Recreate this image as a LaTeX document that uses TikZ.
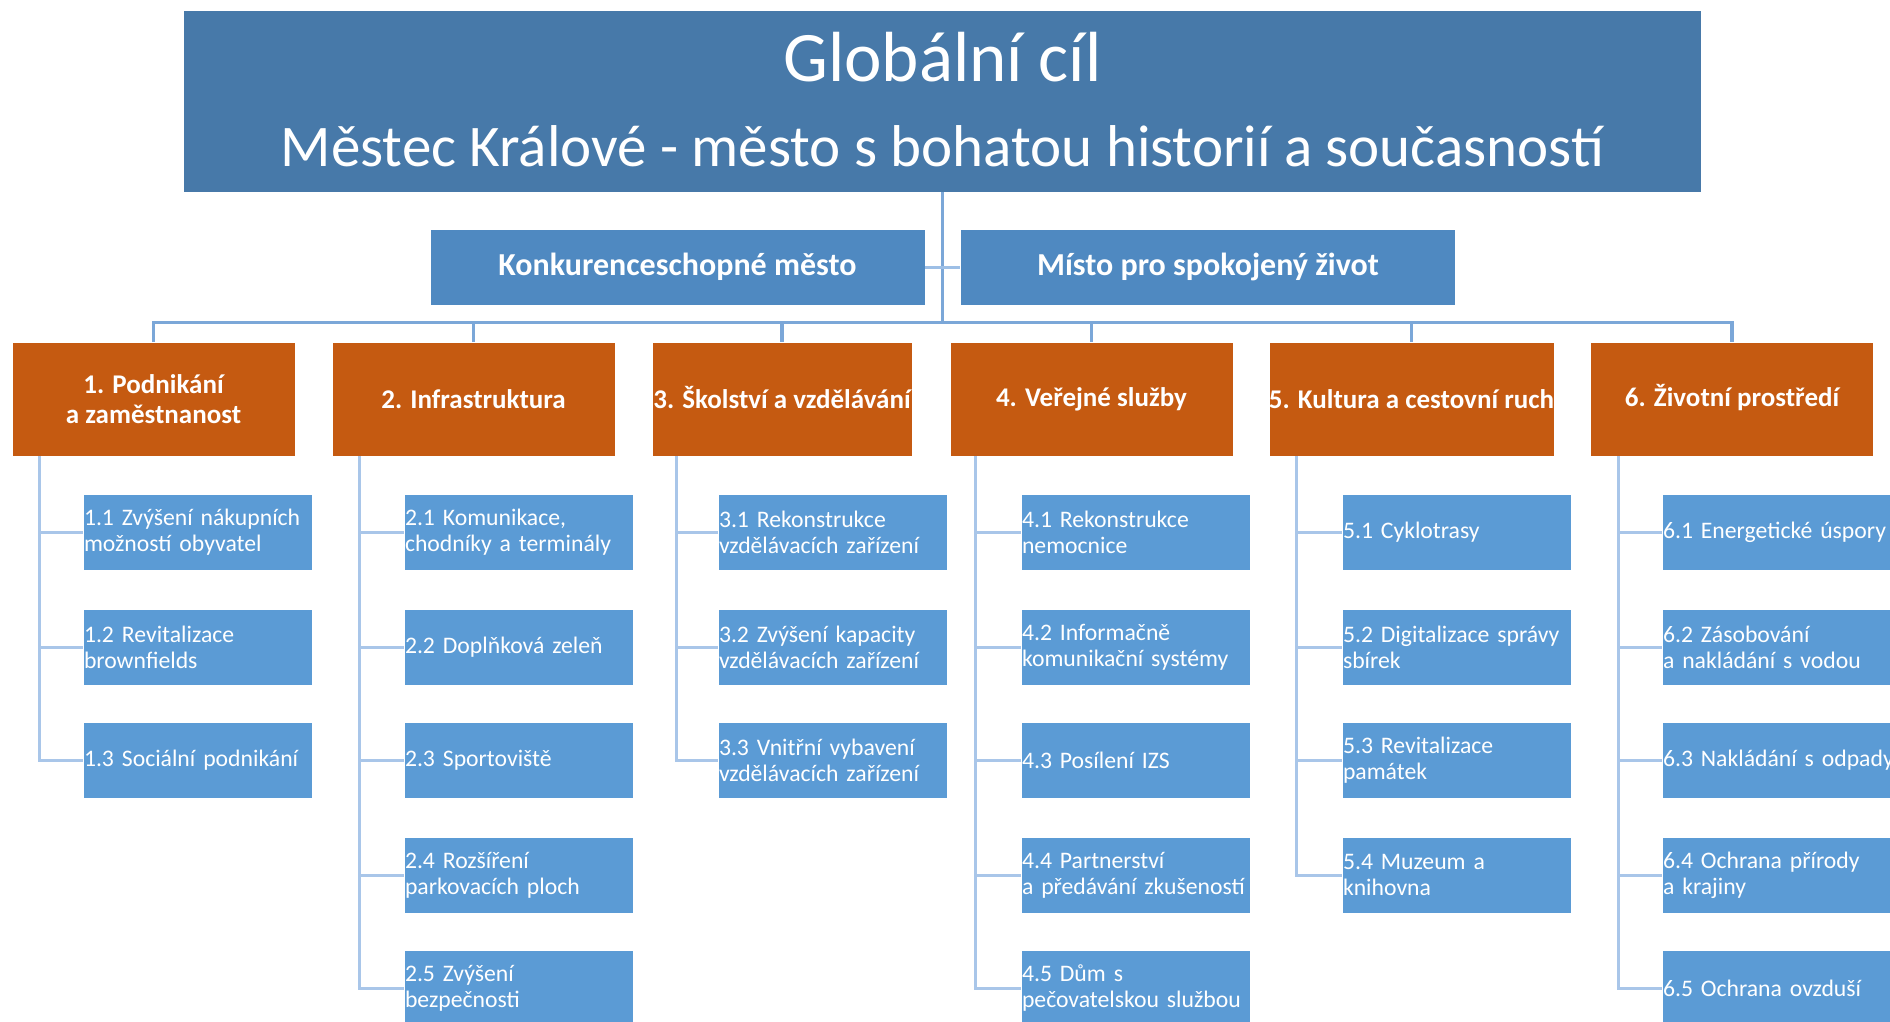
\documentclass[tikz,border=0pt]{standalone}
\usepackage{fontspec}
\setmainfont{Carlito}
\definecolor{goalblue}{HTML}{4779A9}
\definecolor{midblue}{HTML}{4F89C1}
\definecolor{orangebox}{HTML}{C55A11}
\definecolor{childblue}{HTML}{5B9BD5}
\definecolor{lineblue}{HTML}{7BA7D8}
\definecolor{tickblue}{HTML}{9DBFE6}
\definecolor{sublineblue}{HTML}{A9C6E9}
\begin{document}
\begin{tikzpicture}[x=1pt,y=-1pt,
 goalbox/.style={fill=goalblue, draw=white, line width=0.8pt, minimum width=1517pt, minimum height=181pt, inner sep=0pt, text=white, align=center, font=\fontsize{59}{85}\selectfont},
 pillar/.style={fill=midblue, draw=white, line width=0.8pt, minimum width=495pt, minimum height=76pt, inner sep=0pt, text=white, font=\fontsize{32}{38}\selectfont\bfseries},
 priority/.style={fill=orangebox, draw=white, line width=0.8pt, minimum width=283pt, minimum height=114pt, inner sep=0pt, text=white, align=center, font=\fontsize{27}{30}\selectfont\bfseries},
 measure/.style={fill=childblue, draw=white, line width=0.8pt, minimum width=229pt, minimum height=76pt, inner xsep=1pt, inner ysep=0pt, text width=227pt, text=white, align=left, font=\fontsize{23.7}{26}\selectfont},
 mainline/.style={draw=lineblue, line width=3.3pt},
 tickline/.style={draw=tickblue, line width=3pt},
 subline/.style={draw=sublineblue, line width=3pt}]
\useasboundingbox (0,0) rectangle (1890,1022);
\clip (0,0) rectangle (1890,1022);
\fill[white] (0,0) rectangle (1890,1022);

% goal box (text placed inside the node, shifted up slightly)
\fill[goalblue] (184,11) rectangle (1701,192);
\node[goalbox, fill=none, draw=none] (goal) at (942.5,99.5) {{\fontsize{71}{85}\selectfont Globální cíl}\\Městec Králové - město s bohatou historií a současností};
\coordinate (goalbottom) at (942.5,192);

% pillars
\node[pillar] (k1) at (677.5,267) {Konkurenceschopné město};
\node[pillar] (k2) at (1208,267) {Místo pro spokojený život};

% priorities
\node[priority] (o1) at (153.5,399) {1. Podnikání\\a zaměstnanost};
\node[priority] (o2) at (473.5,399) {2. Infrastruktura};
\node[priority, minimum width=260pt] (o3) at (782,399) {3. \smash{Š}kolství a vzdělávání};
\node[priority] (o4) at (1091.5,399) {4. Veřejné služby};
\node[priority] (o5) at (1411.5,399) {5. Kultura a cestovní ruch};
\node[priority] (o6) at (1732,399) {6. \smash{Ž}ivotní prostředí};

% measures column 1
\node[measure] (c11) at (197.5,532) {1.1 Zvýšení nákupních\\možností obyvatel};
\node[measure] (c12) at (197.5,647) {1.2 Revitalizace\\brownfields};
\node[measure] (c13) at (197.5,760) {1.3 Sociální podnikání};
% column 2
\node[measure] (c21) at (518.5,532) {2.1 Komunikace,\\chodníky a terminály};
\node[measure] (c22) at (518.5,647) {2.2 Doplňková zeleň};
\node[measure] (c23) at (518.5,760) {2.3 Sportoviště};
\node[measure] (c24) at (518.5,875) {2.4 Rozšíření\\parkovacích ploch};
\node[measure] (c25) at (518.5,988) {2.5 Zvýšení\\bezpečnosti};
% column 3
\node[measure] (c31) at (832.5,532) {3.1 Rekonstrukce\\vzdělávacích zařízení};
\node[measure] (c32) at (832.5,647) {3.2 Zvýšení kapacity\\vzdělávacích zařízení};
\node[measure] (c33) at (832.5,760) {3.3 Vnitřní vybavení\\vzdělávacích zařízení};
% column 4
\node[measure] (c41) at (1135.5,532) {4.1 Rekonstrukce\\nemocnice};
\node[measure] (c42) at (1135.5,647) {4.2 Informačně\\komunikační systémy};
\node[measure] (c43) at (1135.5,760) {4.3 Posílení IZS};
\node[measure] (c44) at (1135.5,875) {4.4 Partnerství\\a předávání zkušeností};
\node[measure] (c45) at (1135.5,988) {4.5 Dům s\\pečovatelskou službou};
% column 5
\node[measure] (c51) at (1456.5,532) {5.1 Cyklotrasy};
\node[measure] (c52) at (1456.5,647) {5.2 Digitalizace správy\\sbírek};
\node[measure] (c53) at (1456.5,760) {5.3 Revitalizace\\památek};
\node[measure] (c54) at (1456.5,875) {5.4 Muzeum a\\knihovna};
% column 6
\node[measure] (c61) at (1776.5,532) {\mbox{6.1 Energetické úspory}};
\node[measure] (c62) at (1776.5,647) {6.2 Zásobování\\a nakládání s vodou};
\node[measure] (c63) at (1776.5,760) {\mbox{6.3 Nakládání s odpady}};
\node[measure] (c64) at (1776.5,875) {6.4 Ochrana přírody\\a krajiny};
\node[measure] (c65) at (1776.5,988) {6.5 Ochrana ovzduší};

% main connectors
\draw[mainline] (goalbottom) -- ++(0,131);
\draw[mainline] (o1.north) -- ++(0,-19) -| (o6.north);
\foreach \n in {o2,o3,o4,o5} \draw[mainline] (\n.north) -- ++(0,-19);
\draw[tickline] (k1.east) -- (k2.west);

% sub connectors
\foreach \c in {c11,c12,c13} \draw[subline] (o1.south west) ++(28,0) |- (\c.west);
\foreach \c in {c21,c22,c23,c24,c25} \draw[subline] (o2.south west) ++(28,0) |- (\c.west);
\foreach \c in {c31,c32,c33} \draw[subline] (o3.south west) ++(25,0) |- (\c.west);
\foreach \c in {c41,c42,c43,c44,c45} \draw[subline] (o4.south west) ++(26,0) |- (\c.west);
\foreach \c in {c51,c52,c53,c54} \draw[subline] (o5.south west) ++(28,0) |- (\c.west);
\foreach \c in {c61,c62,c63,c64,c65} \draw[subline] (o6.south west) ++(28,0) |- (\c.west);
\end{tikzpicture}
\end{document}
